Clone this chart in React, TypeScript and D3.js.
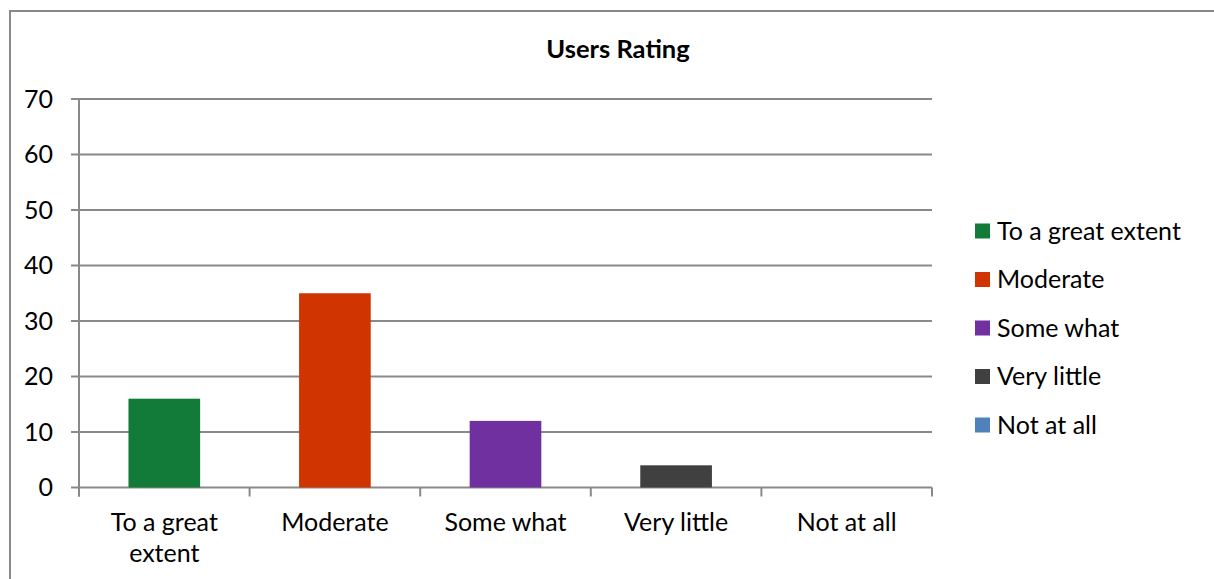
import { useEffect, useRef } from 'react';
import * as d3 from 'd3';

const categories = ['To a great extent', 'Moderate', 'Some what', 'Very little', 'Not at all'];
const axisLabels = [['To a great', 'extent'], ['Moderate'], ['Some what'], ['Very little'], ['Not at all']];
const values = [16, 35, 12, 4, 0];
const colors = ['#137B3A', '#CF3401', '#7030A0', '#404040', '#4F81BD'];
const yTicks = [0, 10, 20, 30, 40, 50, 60, 70];

export default function App() {
  const svgRef = useRef<SVGSVGElement>(null);

  useEffect(() => {
    if (!svgRef.current) return;
    const svg = d3.select(svgRef.current);
    svg.selectAll('*').remove();

    const width = 1214;
    const height = 579;
    const left = 79;
    const right = 932;
    const top = 99;
    const bottom = 487.5;
    const font = 'Lato, "Open Sans", sans-serif';
    const fs = '25px';
    const grid = '#898989';

    // outer frame (right and bottom edges fall outside the picture)
    svg
      .append('path')
      .attr('d', `M10,${height + 5}V11H${width + 5}`)
      .attr('fill', 'none')
      .attr('stroke', grid)
      .attr('stroke-width', 2);

    svg
      .append('text')
      .attr('x', 618)
      .attr('y', 58)
      .attr('text-anchor', 'middle')
      .style('font-family', font)
      .style('font-weight', 'bold')
      .style('font-size', '25.5px')
      .text('Users Rating');

    const x = d3.scaleBand<string>().domain(categories).range([left, right]).paddingInner(0.58).paddingOuter(0.29);
    const y = d3.scaleLinear().domain([0, 70]).range([bottom, top]);

    // gridlines + y labels
    const yg = svg.append('g');
    yTicks.forEach((t) => {
      yg.append('line')
        .attr('x1', left - 8)
        .attr('x2', right)
        .attr('y1', y(t))
        .attr('y2', y(t))
        .attr('stroke', grid)
        .attr('stroke-width', 2);
      yg.append('text')
        .attr('x', 53)
        .attr('y', y(t) + 8.5)
        .attr('text-anchor', 'end')
        .style('font-family', font)
        .style('font-size', fs)
        .text(t);
    });

    // y axis line
    svg
      .append('line')
      .attr('x1', left)
      .attr('x2', left)
      .attr('y1', top)
      .attr('y2', bottom + 9)
      .attr('stroke', grid)
      .attr('stroke-width', 2);

    // x tick marks between categories
    const step = (right - left) / categories.length;
    d3.range(categories.length + 1).forEach((i) => {
      svg
        .append('line')
        .attr('x1', left + i * step)
        .attr('x2', left + i * step)
        .attr('y1', bottom)
        .attr('y2', bottom + 9)
        .attr('stroke', grid)
        .attr('stroke-width', 2);
    });

    // bars
    svg
      .selectAll('rect.bar')
      .data(values)
      .enter()
      .append('rect')
      .attr('class', 'bar')
      .attr('x', (_, i) => x(categories[i]) as number)
      .attr('width', x.bandwidth())
      .attr('y', (d) => y(d))
      .attr('height', (d) => bottom - y(d))
      .attr('fill', (_, i) => colors[i]);

    // category labels
    axisLabels.forEach((lines, i) => {
      const cx = left + (i + 0.5) * step;
      const t = svg
        .append('text')
        .attr('text-anchor', 'middle')
        .style('font-family', font)
        .style('font-size', fs);
      lines.forEach((ln, j) => {
        t.append('tspan').attr('x', cx).attr('y', 531 + j * 31).text(ln);
      });
    });

    // legend
    const lg = svg.append('g');
    categories.forEach((c, i) => {
      const cy = 231 + i * 48.5;
      lg.append('rect')
        .attr('x', 975)
        .attr('y', cy - 7.5)
        .attr('width', 15)
        .attr('height', 15)
        .attr('fill', colors[i]);
      lg.append('text')
        .attr('x', 997)
        .attr('y', cy + 8.5)
        .style('font-family', font)
        .style('font-size', fs)
        .text(c);
    });
  }, []);

  return (
    <div style={{ position: 'absolute', left: 0, top: 0 }}>
      <svg ref={svgRef} width={1214} height={579} style={{ display: 'block', background: '#fff' }}></svg>
    </div>
  );
}
